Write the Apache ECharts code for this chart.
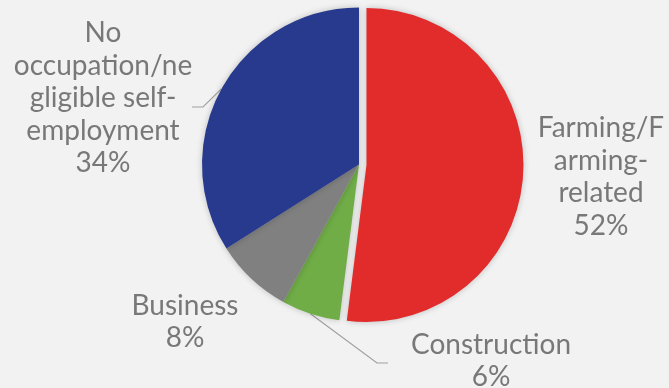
<!DOCTYPE html>
<html>
<head>
<meta charset="utf-8">
<script src="https://cdn.jsdelivr.net/npm/echarts@6/dist/echarts.min.js"></script>
<style>
  html, body { margin: 0; padding: 0; background: #f2f2f2; }
  #chart { width: 669px; height: 388px; }
</style>
</head>
<body>
<div id="chart"></div>
<script>
// Occupation shares (percent), clockwise from 12 o'clock
const categories = ['Farming/Farming-related', 'Construction', 'Business', 'No occupation/negligible self-employment'];
const shares = [52, 6, 8, 34];
// Label text as it wraps beside the pie
const labelNames = ['Farming/F\narming-\nrelated', 'Construction', 'Business', 'No\noccupation/ne\ngligible self-\nemployment'];

const colors = ['#e22b2b', '#70ad47', '#808080', '#283a8d'];

// Pie geometry; the first slice is pulled out from the centre
const pieCenter = [359, 164.5];
const pieRadius = 157;
const explodeOffset = 7.5;
const explodeIndex = 0;

// Label placement (text-block centres) and leader bends
const labelPos = [[601, 177], [491, 361], [185, 322], [103, 98]];
const leaderBends = [null, [[377, 363], [388, 363]], null, [[203, 107], [192, 107]]];

const total = shares.reduce((a, b) => a + b, 0);
const before = shares.slice(0, explodeIndex).reduce((a, b) => a + b, 0);
const midAngle = (before + shares[explodeIndex] / 2) / total * 2 * Math.PI; // clockwise from 12 o'clock
const explodedCenter = [
  pieCenter[0] + explodeOffset * Math.sin(midAngle),
  pieCenter[1] - explodeOffset * Math.cos(midAngle)
];

const chart = echarts.init(document.getElementById('chart'), null, { renderer: 'canvas' });

const sliceStyle = { shadowBlur: 6, shadowColor: 'rgba(0,0,0,0.22)' };

// Main pie: carries every label; the exploded slice is drawn by the second series
const mainData = categories.map((name, i) => ({
  name: name,
  value: shares[i],
  itemStyle: { color: i === explodeIndex ? 'rgba(0,0,0,0)' : colors[i] },
  labelLine: { show: leaderBends[i] !== null }
}));

// Pulled-out slice only
const explodedData = categories.map((name, i) => ({
  name: name,
  value: shares[i],
  itemStyle: { color: i === explodeIndex ? colors[i] : 'rgba(0,0,0,0)' }
}));

chart.setOption({
  backgroundColor: '#f2f2f2',
  animation: false,
  series: [{
    type: 'pie',
    center: pieCenter,
    radius: pieRadius,
    startAngle: 90,
    clockwise: true,
    avoidLabelOverlap: false,
    data: mainData,
    itemStyle: sliceStyle,
    label: {
      show: true,
      position: 'outside',
      formatter: p => labelNames[p.dataIndex] + '\n' + p.value + '%',
      fontFamily: 'Lato',
      fontSize: 28,
      lineHeight: 32.5,
      color: '#787878',
      align: 'center',
      overflow: 'none'
    },
    labelLine: {
      length: 10,
      length2: 10,
      lineStyle: { color: '#a0a0a0', width: 1.2 }
    },
    labelLayout: function (params) {
      const i = params.dataIndex;
      const out = {
        x: labelPos[i][0],
        y: labelPos[i][1],
        align: 'center',
        verticalAlign: 'middle'
      };
      if (leaderBends[i] && params.labelLinePoints) {
        out.labelLinePoints = [params.labelLinePoints[0]].concat(leaderBends[i]);
      }
      return out;
    }
  }, {
    type: 'pie',
    center: explodedCenter,
    radius: pieRadius,
    startAngle: 90,
    clockwise: true,
    silent: true,
    data: explodedData,
    itemStyle: sliceStyle,
    label: { show: false },
    labelLine: { show: false }
  }]
});
</script>
</body>
</html>
